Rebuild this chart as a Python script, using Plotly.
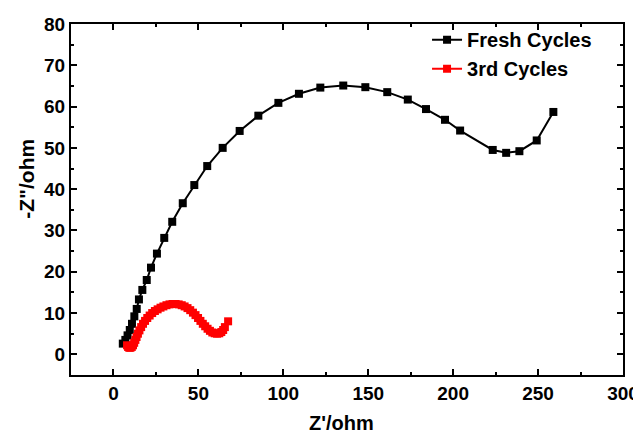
import plotly.graph_objects as go

fresh_x = [5.5, 7.0, 8.3, 9.6, 10.9, 12.3, 13.7, 15.0, 17.0, 19.6, 22.1, 25.6, 29.9, 34.6, 40.8,
           47.6, 55.2, 64.3, 74.3, 85.3, 97.1, 109.2, 121.8, 135.3, 148.3, 161.2, 173.3, 184.0,
           195.2, 204.1, 223.3, 231.2, 239.0, 249.2, 259.0]
fresh_y = [2.6, 3.5, 4.6, 5.9, 7.4, 9.2, 11.0, 13.3, 15.6, 18.0, 21.0, 24.4, 28.2, 32.1, 36.6,
           41.0, 45.6, 50.0, 54.1, 57.8, 60.9, 63.1, 64.6, 65.1, 64.7, 63.5, 61.7, 59.4,
           56.8, 54.2, 49.5, 48.8, 49.2, 51.8, 58.7]

third_x = [8.0, 8.6, 9.3, 10.0, 10.8, 11.5, 12.2, 12.9, 13.6, 14.4, 15.3, 16.3, 17.4, 18.6, 19.9,
           21.3, 22.8, 24.4, 26.0, 27.7, 29.4, 31.2, 33.0, 34.8, 36.6, 38.4, 40.2, 41.9, 43.6,
           45.2, 46.8, 48.3, 49.8, 51.2, 52.6, 54.0, 55.4, 56.8, 58.2, 59.6, 61.0, 62.3, 63.5,
           64.6, 65.6, 67.5]
third_y = [2.2, 1.8, 1.6, 1.6, 1.8, 2.2, 2.8, 3.5, 4.2, 5.0, 5.8, 6.6, 7.4, 8.1, 8.8,
           9.4, 10.0, 10.5, 10.9, 11.3, 11.6, 11.9, 12.1, 12.2, 12.2, 12.1, 11.9, 11.6, 11.2,
           10.7, 10.1, 9.5, 8.8, 8.1, 7.4, 6.8, 6.2, 5.7, 5.3, 5.1, 5.0, 5.1, 5.4,
           5.9, 6.6, 8.0]

x_ticks = [0, 50, 100, 150, 200, 250, 300]
y_ticks = [0, 10, 20, 30, 40, 50, 60, 70, 80]

font_family = "Liberation Sans, Arial, sans-serif"

fig = go.Figure()
fig.add_trace(go.Scatter(
    x=fresh_x, y=fresh_y, mode="lines+markers", name="Fresh Cycles",
    line=dict(color="black", width=2),
    marker=dict(symbol="square", size=8, color="black"),
))
fig.add_trace(go.Scatter(
    x=third_x, y=third_y, mode="lines+markers", name="3rd Cycles",
    line=dict(color="red", width=2),
    marker=dict(symbol="square", size=8, color="red"),
))

axis_common = dict(
    showgrid=False, zeroline=False, showline=True, linecolor="black", linewidth=2,
    mirror="ticks", ticks="inside", ticklen=6, tickwidth=2, tickcolor="black",
    automargin=False,
    tickfont=dict(family=font_family, size=19, color="black", weight="bold"),
    minor=dict(ticks="inside", ticklen=3, tickwidth=2, tickcolor="black"),
)

fig.update_xaxes(range=[-25, 300], tickvals=x_ticks, ticktext=[str(v) for v in x_ticks],
                 minor_tickvals=[-25, 25, 75, 125, 175, 225, 275], **axis_common)
fig.update_yaxes(range=[-5, 80], tickvals=y_ticks, ticktext=[str(v) for v in y_ticks],
                 minor_tickvals=[-5, 5, 15, 25, 35, 45, 55, 65, 75], **axis_common)

# the page body adds an 8 px margin, so the figure is sized/offset to compensate
fig.update_layout(
    width=633, height=428,
    margin=dict(l=63, r=18, t=13, b=61),
    paper_bgcolor="white", plot_bgcolor="white",
    showlegend=True,
    legend=dict(x=0.645, y=1.011, xanchor="left", yanchor="top",
                bgcolor="rgba(0,0,0,0)",
                font=dict(family=font_family, size=20, color="black", weight="bold"),
                tracegroupgap=0),
    annotations=[
        dict(text="Z'/ohm", xref="paper", yref="paper", x=0.49, y=-0.137,
             xanchor="center", yanchor="middle", showarrow=False,
             font=dict(family=font_family, size=20, color="black", weight="bold")),
        dict(text='-Z"/ohm', xref="paper", yref="paper", x=-0.0797, y=0.559,
             xanchor="center", yanchor="middle", showarrow=False, textangle=-90,
             font=dict(family=font_family, size=21, color="black", weight="bold")),
    ],
)

fig.write_html("out.html")
